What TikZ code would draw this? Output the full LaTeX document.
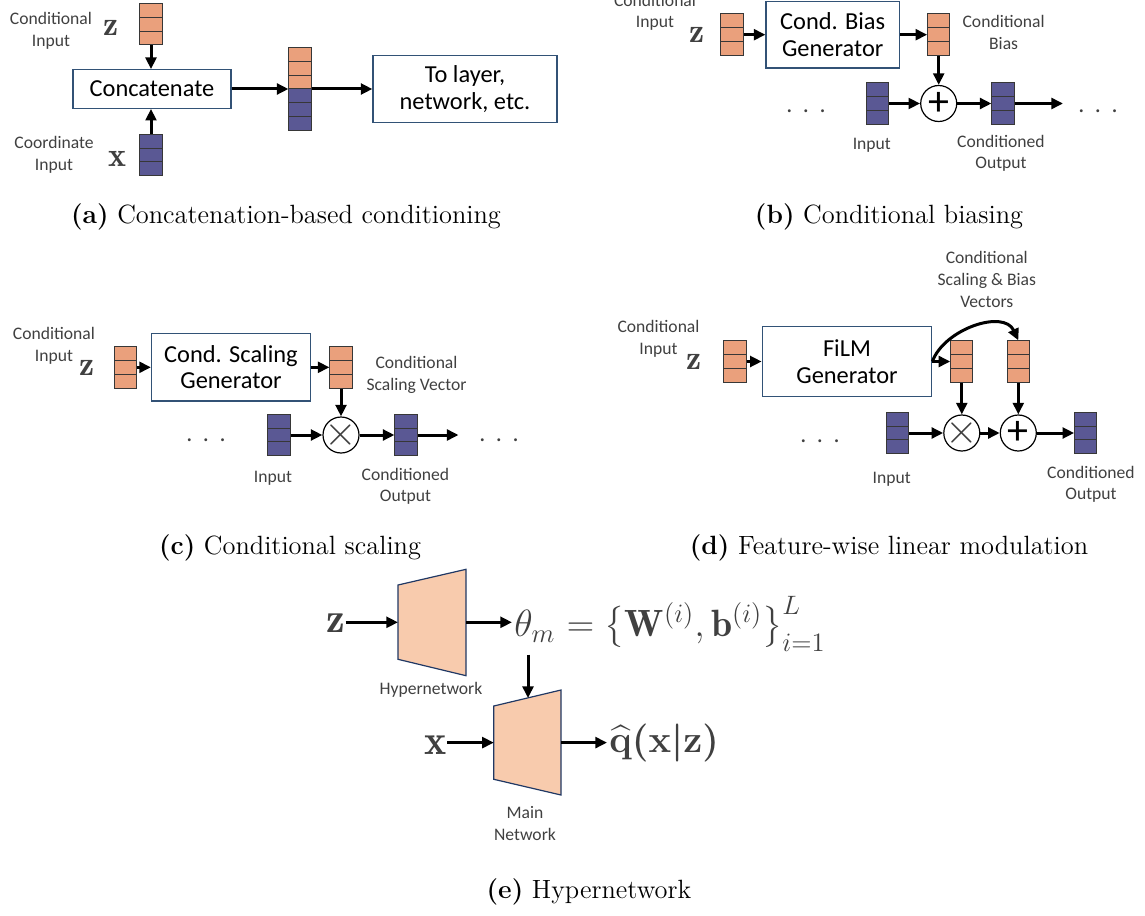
\RequirePackage{fix-cm}
\documentclass[tikz,border=0pt]{standalone}
\usepackage{amsmath}
\usepackage{fontspec}
\newfontfamily\calibri{Carlito}
\usetikzlibrary{arrows.meta,shapes.multipart}
\definecolor{cellorange}{RGB}{234,160,124}
\definecolor{cellblue}{RGB}{90,88,148}
\definecolor{cellline}{RGB}{55,55,55}
\definecolor{boxline}{RGB}{50,82,118}
\definecolor{trapfill}{RGB}{248,203,173}
\definecolor{trapline}{RGB}{32,56,100}
\definecolor{txtgray}{RGB}{64,64,64}

\begin{document}
\begin{tikzpicture}[x=0.5pt,y=-0.5pt,
  arr/.style={-{Triangle[length=5.8pt,width=5.4pt]},line width=1.5pt},
  vec/.style={rectangle split,rectangle split parts=3,draw=cellline,line width=0.5pt,
    inner sep=0pt,minimum width=6.75pt,rectangle split empty part width=6.75pt,
    rectangle split empty part height=6.4pt,rectangle split empty part depth=0pt},
  catvec/.style={vec,rectangle split parts=6,
    rectangle split part fill={cellorange,cellorange,cellorange,cellblue,cellblue,cellblue}},
  genbox/.style={draw=boxline,line width=0.6pt,fill=white,align=center,inner sep=2pt,
    font=\calibri\fontsize{12.2}{13.3}\selectfont},
  lbl/.style={align=center,text=txtgray,inner sep=0pt,font=\calibri\fontsize{8.8}{10.8}\selectfont},
  sym/.style={text=txtgray,inner sep=0pt,font=\fontsize{17}{17}\selectfont},
  bigsym/.style={text=txtgray,inner sep=0pt,font=\fontsize{21}{21}\selectfont},
  formula/.style={text=txtgray,inner sep=0pt,font=\fontsize{19}{19}\selectfont},
  op/.style={circle,draw=black,line width=0.6pt,fill=white,minimum size=18pt,inner sep=0pt},
  timessym/.style={text=txtgray,inner sep=0pt,font=\fontsize{21}{21}\selectfont},
  plussym/.style={text=black,inner sep=0pt,font=\calibri\fontsize{21}{21}\selectfont},
  ellip/.style={text=txtgray,inner sep=0pt,font=\calibri\fontsize{12}{12}\selectfont},
  subcap/.style={inner sep=0pt,font=\fontsize{13.2}{15}\selectfont},
  net/.style={draw=trapline,line width=0.6pt,fill=trapfill}]
  \useasboundingbox (0,0) rectangle (1145,915);

  \node[lbl] (condA) at (51,31) {Conditional\\Input};
  \node[sym] (zA) at (111,28.3) {$\mathbf{z}$};
  \node[vec,fill=cellorange] (zvA) at (151,24.3) {};
  \node[genbox,minimum width=79pt,minimum height=19.3pt] (cat) at (152,89) {Concatenate};
  \node[vec,fill=cellblue] (xvA) at (151,155) {};
  \node[lbl] (coordA) at (54,155) {Coordinate\\Input};
  \node[sym] (xA) at (117,159.3) {$\mathbf{x}$};
  \node[catvec] (cvA) at (300,89) {};
  \node[genbox,minimum width=92pt,minimum height=33.3pt] (layer) at (465,89) {To layer,\\network, etc.};
  \draw[arr] (zvA) -- (zvA |- cat.north);
  \draw[arr] (xvA) -- (xvA |- cat.south);
  \draw[arr] (cat) -- (cvA);
  \draw[arr] (cvA) -- (layer);
  \node[subcap] (capA) at (286,217) {\textbf{(a)} Concatenation-based conditioning};

  \node[lbl] (condB) at (655,12.5) {Conditional\\Input};
  \node[sym] (zB) at (697,35) {$\mathbf{z}$};
  \node[vec,fill=cellorange] (zvB) at (732,34.7) {};
  \node[genbox,minimum width=66.7pt,minimum height=33.3pt] (biasgen) at (832.7,34.7) {Cond. Bias\\Generator};
  \node[vec,fill=cellorange] (bvB) at (938.7,34.7) {};
  \node[lbl] (biasB) at (1003.6,32.5) {Conditional\\Bias};
  \node[op,label={[plussym]center:+}] (addB) at (938.7,103.5) {};
  \node[vec,fill=cellblue] (inB) at (877.4,103.5) {};
  \node[vec,fill=cellblue] (outB) at (1003,103.5) {};
  \coordinate (endB) at (1063,103.5);
  \node[ellip] (dotsB1) at (806,111.7) {.\hspace{5.3pt}.\hspace{5.3pt}.};
  \node[ellip] (dotsB2) at (1098,111.7) {.\hspace{5.3pt}.\hspace{5.3pt}.};
  \node[lbl] (inLblB) at (871.8,145) {Input};
  \node[lbl] (outLblB) at (1001,153.3) {Conditioned\\Output};
  \draw[arr] (zvB) -- (biasgen);
  \draw[arr] (biasgen) -- (bvB);
  \draw[arr] (bvB) -- (addB);
  \draw[arr] (inB) -- (addB);
  \draw[arr] (addB) -- (outB);
  \draw[arr] (outB) -- (endB);
  \node[subcap] (capB) at (889,217) {\textbf{(b)} Conditional biasing};

  \node[lbl] (condC) at (54,346) {Conditional\\Input};
  \node[sym] (zC) at (87,368.3) {$\mathbf{z}$};
  \node[vec,fill=cellorange] (zvC) at (125.5,367.3) {};
  \node[genbox,minimum width=79.5pt,minimum height=33.7pt] (scalegen) at (231,367.3) {Cond. Scaling\\Generator};
  \node[vec,fill=cellorange] (svC) at (341,367.3) {};
  \node[lbl] (scaleC) at (416.5,374.7) {Conditional\\Scaling Vector};
  \node[op,label={[timessym]center:$\times$}] (mulC) at (341,435) {};
  \node[vec,fill=cellblue] (inC) at (279,435) {};
  \node[vec,fill=cellblue] (outC) at (406,435) {};
  \coordinate (endC) at (458.5,435);
  \node[ellip] (dotsC1) at (206,440) {.\hspace{5.3pt}.\hspace{5.3pt}.};
  \node[ellip] (dotsC2) at (499,440) {.\hspace{5.3pt}.\hspace{5.3pt}.};
  \node[lbl] (inLblC) at (273,478.3) {Input};
  \node[lbl] (outLblC) at (405.5,486.3) {Conditioned\\Output};
  \draw[arr] (zvC) -- (scalegen);
  \draw[arr] (scalegen) -- (svC);
  \draw[arr] (svC) -- (mulC);
  \draw[arr] (inC) -- (mulC);
  \draw[arr] (mulC) -- (outC);
  \draw[arr] (outC) -- (endC);
  \node[subcap] (capC) at (290,548) {\textbf{(c)} Conditional scaling};

  \node[lbl] (condD) at (658.5,339) {Conditional\\Input};
  \node[sym] (zD) at (693.6,361.7) {$\mathbf{z}$};
  \node[vec,fill=cellorange] (zvD) at (735,361.5) {};
  \node[genbox,minimum width=84.75pt,minimum height=35.3pt] (film) at (847,361.5) {FiLM\\Generator};
  \node[vec,fill=cellorange] (gamD) at (961.8,361.5) {};
  \node[vec,fill=cellorange] (betD) at (1018.3,361.5) {};
  \node[lbl] (filmLbl) at (986.8,279.5) {Conditional\\Scaling \& Bias\\Vectors};
  \node[op,label={[timessym]center:$\times$}] (mulD) at (961.8,433) {};
  \node[op,label={[plussym]center:+}] (addD) at (1018.3,433) {};
  \node[vec,fill=cellblue] (inD) at (897.4,433) {};
  \node[vec,fill=cellblue] (outD) at (1085.7,433) {};
  \node[ellip] (dotsD) at (820,441.7) {.\hspace{5.3pt}.\hspace{5.3pt}.};
  \node[lbl] (inLblD) at (891.7,479.3) {Input};
  \node[lbl] (outLblD) at (1091,484.2) {Conditioned\\Output};
  \draw[arr] (zvD) -- (film);
  \draw[arr] (film) -- (gamD);
  \draw[arr] (film.east) to[out=70,in=115] (betD.north);
  \draw[arr] (gamD) -- (mulD);
  \draw[arr] (betD) -- (addD);
  \draw[arr] (inD) -- (mulD);
  \draw[arr] (mulD) -- (addD);
  \draw[arr] (addD) -- (outD);
  \node[subcap] (capD) at (889,548) {\textbf{(d)} Feature-wise linear modulation};

  \coordinate (h1) at (398,585); \coordinate (h2) at (466,569.3);
  \coordinate (h3) at (466,675.7); \coordinate (h4) at (398,659.3);
  \coordinate (m1) at (493.8,706); \coordinate (m2) at (561,690);
  \coordinate (m3) at (561,795); \coordinate (m4) at (493.8,779.3);
  \draw[net] (h1) -- (h2) -- (h3) -- (h4) -- cycle;
  \draw[net] (m1) -- (m2) -- (m3) -- (m4) -- cycle;
  \coordinate (hyperIn) at (398,622.3); \coordinate (hyperOut) at (466,622.3);
  \coordinate (mainIn) at (493.8,742.6); \coordinate (mainOut) at (561,742.6);
  \coordinate (mainTop) at (528,698);
  \node[bigsym] (zE) at (336,623.5) {$\mathbf{z}$};
  \node[bigsym] (xE) at (435.7,745) {$\mathbf{x}$};
  \node[lbl] (hyperLbl) at (431,689.3) {Hypernetwork};
  \node[lbl] (mainLbl) at (525,823.7) {Main\\Network};
  \node[formula,anchor=base west] (theta) at (514,636.5) {$\theta_m$};
  \node[formula,anchor=base west] (params) at (theta.base east) {${}=\bigl\{\mathbf{W}^{(i)},\mathbf{b}^{(i)}\bigr\}_{i=1}^{L}$};
  \node[formula,anchor=west,inner sep=1pt,font={\fontsize{19}{19}\selectfont\boldmath}] (qhat) at (607,742.6) {$\widehat{\mathbf{q}}(\mathbf{x}|\mathbf{z})$};
  \draw[arr] (zE.east |- hyperIn) -- (hyperIn);
  \draw[arr] (hyperOut) -- ([xshift=-1pt]hyperOut -| theta.west);
  \draw[arr] ([yshift=-6pt]theta.south -| mainTop) -- (mainTop);
  \draw[arr] (xE.east |- mainIn) -- (mainIn);
  \draw[arr] (mainOut) -- (mainOut -| qhat.west);
  \node[subcap] (capE) at (589,892) {\textbf{(e)} Hypernetwork};
\end{tikzpicture}
\end{document}
